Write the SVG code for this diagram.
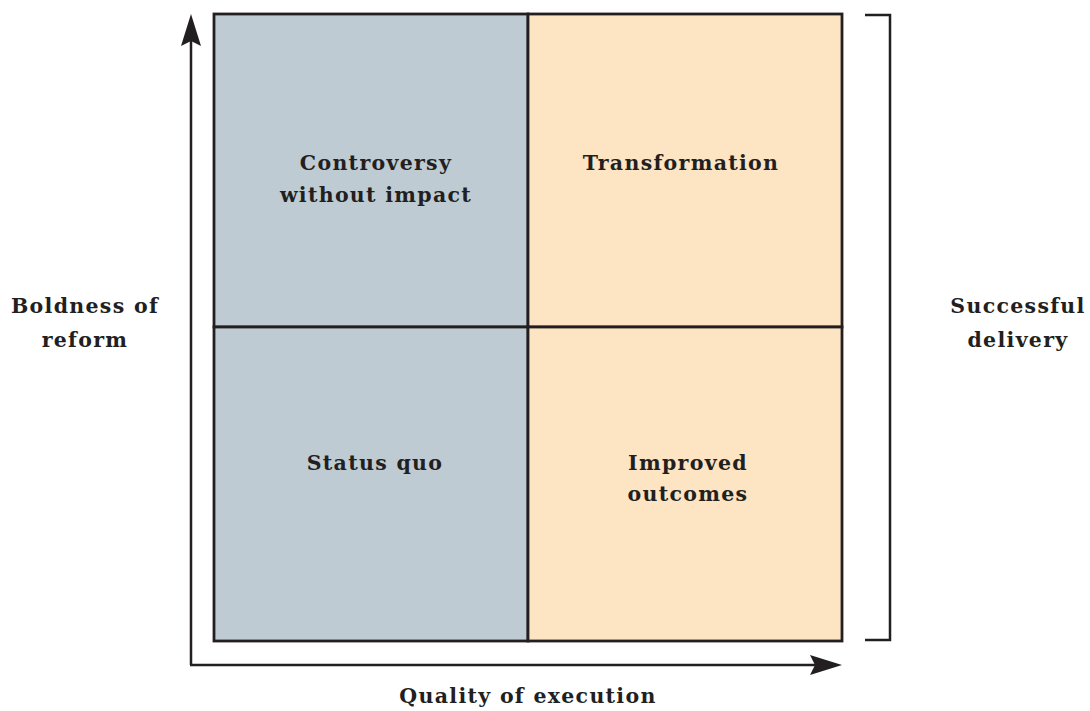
<svg xmlns="http://www.w3.org/2000/svg" width="1090" height="711" viewBox="0 0 1090 711">
<style>
.t{font-family:"DejaVu Serif","Liberation Serif",serif;font-weight:bold;font-size:20.5px;fill:#231f20;text-anchor:middle;letter-spacing:1.3px}
.q{stroke:#231f20;stroke-width:2.8}
.ln{stroke:#231f20;stroke-width:2.5;fill:none}
</style>
<rect width="1090" height="711" fill="#fff"/>
<g id="q-controversy"><rect class="q" x="214" y="14" width="314" height="313" fill="#bfcbd3"/><text class="t" x="376" y="170">Controversy</text><text class="t" x="376" y="202">without impact</text></g>
<g id="q-transformation"><rect class="q" x="528" y="14" width="314" height="313" fill="#fde4c3"/><text class="t" x="681" y="170">Transformation</text></g>
<g id="q-status"><rect class="q" x="214" y="327" width="314" height="314" fill="#bfcbd3"/><text class="t" x="375" y="470">Status quo</text></g>
<g id="q-improved"><rect class="q" x="528" y="327" width="314" height="314" fill="#fde4c3"/><text class="t" x="688" y="470">Improved</text><text class="t" x="688" y="501">outcomes</text></g>
<g id="connectors">
<path class="ln" d="M191,665 V40 M190,665 H815"/>
<path d="M191,14 L201,46 L191,41 L181,46 Z" fill="#231f20"/>
<path d="M842,665 L810,655 L815,665 L810,675 Z" fill="#231f20"/>
<path class="ln" d="M865,15 H890 V640 H865"/>
</g>
<g id="labels">
<text class="t" x="85" y="313">Boldness of</text><text class="t" x="85" y="347">reform</text>
<text class="t" x="1018" y="313">Successful</text><text class="t" x="1018" y="347">delivery</text>
<text class="t" x="528" y="703">Quality of execution</text>
</g>
</svg>
